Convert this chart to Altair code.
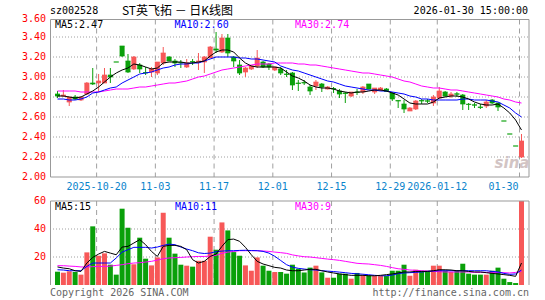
import altair as alt
import pandas as pd

# ---------------- data ----------------
tick_k = [7, 17, 27, 37, 47, 57, 65, 79]
tick_labels = ["2025-10-20", "11-03", "11-17", "12-01", "12-15", "12-29", "2026-01-12", "01-30"]
price_ticks = [3.6, 3.4, 3.2, 3.0, 2.8, 2.6, 2.4, 2.2, 2.0]
vol_ticks = [60, 40, 20]

opens = [2.83, 2.81, 2.75, 2.80, 2.77, 2.83, 2.94, 2.94, 2.94, 3.02,
         3.15, 3.31, 3.16, 3.08, 3.12, 3.045, 3.05, 3.04, 3.14, 3.20,
         3.16, 3.145, 3.10, 3.155, 3.15, 3.15, 3.19, 3.28, 3.25, 3.39,
         3.20, 3.12, 3.05, 3.08, 3.11, 3.15, 3.13, 3.07, 3.08, 3.03,
         3.04, 2.94, 2.945, 2.90, 2.91, 2.93, 2.88, 2.885, 2.86, 2.84,
         2.81, 2.85, 2.85, 2.93, 2.85, 2.87, 2.88, 2.84, 2.765, 2.73,
         2.66, 2.68, 2.765, 2.762, 2.74, 2.79, 2.85, 2.81, 2.832, 2.82,
         2.728, 2.722, 2.70, 2.71, 2.77, 2.74, 2.56, 2.43, 2.31, 2.20]
closes = [2.81, 2.82, 2.80, 2.78, 2.80, 2.94, 2.93, 2.96, 3.02, 3.00,
          3.15, 3.21, 3.05, 3.20, 3.08, 3.04, 3.08, 3.15, 3.24, 3.16,
          3.14, 3.14, 3.14, 3.15, 3.16, 3.20, 3.30, 3.27, 3.39, 3.24,
          3.16, 3.04, 3.09, 3.11, 3.19, 3.10, 3.10, 3.10, 3.04, 3.025,
          2.92, 2.935, 2.94, 2.86, 2.95, 2.90, 2.90, 2.88, 2.83, 2.835,
          2.85, 2.845, 2.90, 2.88, 2.89, 2.89, 2.855, 2.78, 2.76, 2.68,
          2.69, 2.76, 2.76, 2.758, 2.80, 2.86, 2.81, 2.83, 2.828, 2.73,
          2.725, 2.718, 2.695, 2.75, 2.74, 2.70, 2.56, 2.43, 2.31, 2.36]
highs = [2.86, 2.87, 2.80, 2.82, 2.80, 2.95, 3.09, 3.03, 3.09, 3.09,
         3.15, 3.31, 3.23, 3.21, 3.14, 3.10, 3.10, 3.15, 3.30, 3.21,
         3.18, 3.17, 3.18, 3.18, 3.24, 3.21, 3.31, 3.45, 3.43, 3.43,
         3.21, 3.17, 3.10, 3.12, 3.27, 3.16, 3.14, 3.10, 3.10, 3.07,
         3.05, 2.97, 2.97, 2.92, 2.97, 2.94, 2.91, 2.90, 2.88, 2.85,
         2.85, 2.88, 2.91, 2.93, 2.89, 2.90, 2.89, 2.85, 2.765, 2.77,
         2.70, 2.77, 2.78, 2.78, 2.82, 2.90, 2.86, 2.85, 2.85, 2.83,
         2.74, 2.74, 2.73, 2.77, 2.78, 2.74, 2.56, 2.43, 2.31, 2.43]
lows = [2.79, 2.80, 2.71, 2.77, 2.76, 2.82, 2.92, 2.85, 2.94, 2.94,
        3.15, 3.20, 3.04, 3.07, 3.04, 3.02, 3.00, 3.02, 3.12, 3.16,
        3.10, 3.09, 3.09, 3.12, 3.07, 3.04, 3.19, 3.24, 3.24, 3.20,
        3.10, 3.02, 3.00, 3.07, 3.09, 3.09, 3.07, 3.06, 3.02, 3.00,
        2.87, 2.86, 2.92, 2.82, 2.87, 2.85, 2.875, 2.84, 2.79, 2.74,
        2.80, 2.82, 2.83, 2.875, 2.83, 2.86, 2.85, 2.76, 2.69, 2.64,
        2.66, 2.67, 2.73, 2.74, 2.71, 2.78, 2.80, 2.79, 2.80, 2.67,
        2.67, 2.69, 2.68, 2.69, 2.73, 2.66, 2.56, 2.43, 2.31, 2.19]
volumes = [9.5, 8.8, 9.8, 9.3, 7.4, 23.3, 41.9, 20.9, 22.6, 14.5,
           7.4, 54.5, 40.9, 14.8, 33.8, 18.8, 14.0, 19.7, 51.6, 33.8,
           22.4, 14.5, 13.8, 13.1, 17.3, 17.3, 34.5, 25.2, 44.7, 39.0,
           23.5, 20.9, 14.0, 10.2, 19.7, 13.8, 10.2, 9.3, 9.3, 8.1,
           14.5, 11.6, 9.0, 12.4, 13.8, 9.0, 5.2, 5.2, 8.1, 8.1,
           4.5, 8.6, 6.9, 6.9, 6.4, 6.4, 6.4, 10.2, 10.2, 14.5,
           6.6, 10.9, 10.2, 10.2, 13.8, 13.8, 10.2, 9.3, 10.2, 15.2,
           8.1, 7.4, 7.4, 7.4, 10.2, 12.4, 4.5, 2.1, 1.4, 60.0]
ma5 = [2.81, 2.81, 2.80, 2.79, 2.80, 2.83, 2.86, 2.90, 2.95, 3.00,
       3.04, 3.07, 3.09, 3.13, 3.12, 3.10, 3.08, 3.09, 3.14, 3.15,
       3.15, 3.15, 3.14, 3.14, 3.15, 3.16, 3.21, 3.25, 3.27, 3.27,
       3.25, 3.19, 3.14, 3.11, 3.10, 3.10, 3.10, 3.10, 3.09, 3.05,
       3.01, 2.99, 2.96, 2.92, 2.90, 2.89, 2.89, 2.88, 2.86, 2.85,
       2.84, 2.85, 2.85, 2.86, 2.87, 2.87, 2.86, 2.84, 2.82, 2.78,
       2.74, 2.73, 2.73, 2.73, 2.75, 2.79, 2.80, 2.81, 2.81, 2.80,
       2.78, 2.75, 2.73, 2.72, 2.72, 2.73, 2.69, 2.64, 2.57, 2.47]
ma10 = [2.78, 2.78, 2.77, 2.77, 2.78, 2.80, 2.84, 2.85, 2.87, 2.89,
        2.90, 2.94, 2.97, 3.00, 3.03, 3.04, 3.05, 3.07, 3.09, 3.10,
        3.12, 3.13, 3.13, 3.14, 3.14, 3.16, 3.18, 3.20, 3.20, 3.20,
        3.20, 3.19, 3.19, 3.18, 3.18, 3.17, 3.16, 3.15, 3.11, 3.09,
        3.07, 3.06, 3.04, 3.02, 3.00, 2.98, 2.96, 2.95, 2.93, 2.91,
        2.90, 2.89, 2.88, 2.87, 2.87, 2.86, 2.86, 2.85, 2.84, 2.83,
        2.81, 2.80, 2.78, 2.78, 2.77, 2.77, 2.77, 2.77, 2.77, 2.78,
        2.78, 2.77, 2.77, 2.77, 2.76, 2.75, 2.72, 2.69, 2.64, 2.60]
ma30 = [2.86, 2.86, 2.86, 2.86, 2.85, 2.85, 2.85, 2.85, 2.86, 2.87,
        2.88, 2.88, 2.88, 2.89, 2.90, 2.90, 2.91, 2.92, 2.93, 2.94,
        2.94, 2.95, 2.96, 2.98, 3.00, 3.01, 3.03, 3.05, 3.07, 3.08,
        3.09, 3.10, 3.11, 3.12, 3.13, 3.13, 3.13, 3.14, 3.14, 3.14,
        3.14, 3.13, 3.13, 3.12, 3.12, 3.11, 3.10, 3.09, 3.08, 3.07,
        3.06, 3.05, 3.04, 3.04, 3.03, 3.02, 3.01, 3.00, 2.98, 2.96,
        2.95, 2.93, 2.91, 2.90, 2.89, 2.89, 2.88, 2.87, 2.87, 2.86,
        2.85, 2.84, 2.83, 2.82, 2.81, 2.80, 2.78, 2.77, 2.75, 2.74]
vma5 = [12.9, 12.1, 11.6, 10.2, 9.7, 15.7, 19.7, 22.1, 24.0, 22.8,
        21.6, 27.1, 27.6, 30.0, 32.4, 28.8, 24.0, 20.4, 27.6, 28.3,
        28.3, 27.6, 25.2, 18.1, 15.7, 16.9, 20.4, 22.1, 27.6, 32.4,
        32.8, 31.2, 26.9, 21.6, 16.9, 15.0, 13.8, 12.6, 12.1, 10.7,
        10.2, 10.2, 10.7, 11.2, 11.2, 10.2, 9.3, 8.6, 7.9, 7.4,
        6.9, 6.9, 6.9, 6.6, 6.6, 6.9, 7.4, 7.9, 8.6, 9.3,
        9.3, 9.7, 9.7, 9.7, 10.2, 10.9, 10.9, 10.7, 10.2, 10.2,
        9.7, 9.3, 9.3, 8.8, 8.3, 7.9, 7.4, 6.9, 6.2, 15.7]
vma10 = [10.9, 10.7, 10.2, 10.2, 10.2, 13.3, 15.7, 15.7, 15.7, 15.7,
         19.3, 23.5, 25.2, 26.9, 26.9, 26.9, 26.4, 27.1, 28.3, 29.2,
         28.8, 27.1, 25.7, 24.5, 23.0, 22.5, 22.8, 23.8, 24.2, 24.5,
         24.5, 24.7, 24.8, 24.6, 24.5, 24.0, 22.8, 20.5, 17.5, 14.5,
         12.8, 11.9, 11.4, 10.9, 10.7, 10.2, 9.9, 9.6, 9.2, 8.8,
         8.3, 8.0, 7.7, 7.3, 6.9, 6.6, 6.6, 7.1, 8.1, 8.6,
         8.8, 9.0, 9.3, 9.7, 10.0, 10.2, 10.2, 10.2, 10.2, 10.2,
         10.2, 10.2, 10.2, 10.2, 9.7, 9.3, 8.3, 7.6, 7.9, 10.7]
vma30 = [13.8, 13.8, 13.5, 13.3, 12.9, 12.9, 13.1, 13.3, 13.3, 13.5,
         14.0, 14.5, 15.2, 15.7, 15.9, 16.4, 16.9, 17.8, 18.8, 19.3,
         19.5, 19.7, 20.0, 20.2, 20.4, 20.4, 20.7, 21.2, 22.6, 23.5,
         24.0, 24.5, 24.5, 24.5, 24.5, 24.3, 24.0, 23.5, 23.1, 22.6,
         21.5, 20.8, 20.2, 20.0, 19.5, 19.0, 18.5, 18.1, 17.6, 16.9,
         16.2, 15.5, 15.2, 15.0, 14.5, 14.0, 13.3, 12.4, 11.6, 11.2,
         10.7, 10.5, 10.2, 10.0, 9.7, 9.5, 9.3, 9.3, 9.3, 9.3,
         9.3, 9.0, 9.0, 9.0, 9.0, 9.0, 8.8, 8.6, 9.0, 9.8]

# ---------------- styling ----------------
RED = "#f75858"
GREEN = "#0aa00a"
BLUE = "#0000ff"
MAGENTA = "#ff00ff"
GRID = "#a0a0a0"
FRAME = "#999999"
XLAB = "#0a84cc"
MONO = "DejaVu Sans Mono"
FS = 10

W, H = 479, 268
TOP_Y0, TOP_Y1 = 2.5, 160      # price panel frame (plot coords)
VOL_Y0, VOL_Y1 = 184, 268      # volume panel

df = pd.DataFrame({
    "k": list(range(len(opens))), "open": opens, "close": closes,
    "high": highs, "low": lows, "vol": volumes,
    "ma5": ma5, "ma10": ma10, "ma30": ma30,
    "vma5": vma5, "vma10": vma10, "vma30": vma30,
})
df["dir"] = ["up" if c > o else "down" for o, c in zip(opens, closes)]

XS = alt.Scale(domain=[0, 79], range=[2.5, 476.5], nice=False, zero=False)
PS = alt.Scale(domain=[2.0, 3.6], range=[160, 0], nice=False, zero=False)
VS = alt.Scale(domain=[0, 60], range=[268, 184], nice=False, zero=False)
xk = alt.X("k:Q", scale=XS, axis=None)
col = alt.Color("dir:N", scale=alt.Scale(domain=["up", "down"], range=[RED, GREEN]), legend=None)

base = alt.Chart(df)
ticks_df = pd.DataFrame({"k": tick_k, "label": tick_labels})
pt_df = pd.DataFrame({"p": price_ticks})
vt_df = pd.DataFrame({"v": vol_ticks})

layers = []

# grids
layers.append(alt.Chart(pt_df).transform_filter("datum.p > 2.05 && datum.p < 3.55").mark_rule(
    color=GRID, strokeDash=[1, 2], strokeWidth=1).encode(
    y=alt.Y("p:Q", scale=PS, axis=None), x=alt.value(0), x2=alt.value(W)))
layers.append(alt.Chart(vt_df).transform_filter("datum.v < 59").mark_rule(
    color=GRID, strokeDash=[1, 2], strokeWidth=1).encode(
    y=alt.Y("v:Q", scale=VS, axis=None), x=alt.value(0), x2=alt.value(W)))
for y0, y1 in [(TOP_Y0, TOP_Y1), (VOL_Y0, VOL_Y1)]:
    layers.append(alt.Chart(ticks_df).mark_rule(
        color=GRID, strokeDash=[5, 4], strokeWidth=1, xOffset=-2).encode(
        x=alt.X("k:Q", scale=XS, axis=None), y=alt.value(y0), y2=alt.value(y1)))

# candles
layers.append(base.mark_rule(strokeWidth=1).encode(
    x=xk, y=alt.Y("low:Q", scale=PS, axis=None), y2="high:Q", color=col))
layers.append(base.mark_bar(size=5).encode(
    x=xk, y=alt.Y("open:Q", scale=PS, axis=None), y2="close:Q", color=col))
for f in ["open", "close"]:
    layers.append(base.mark_tick(orient="horizontal", size=5, thickness=1).encode(
        x=xk, y=alt.Y(f"{f}:Q", scale=PS, axis=None), color=col))

# price MAs
for f, c in [("ma30", MAGENTA), ("ma10", BLUE), ("ma5", "black")]:
    layers.append(base.mark_line(color=c, strokeWidth=1).encode(
        x=xk, y=alt.Y(f"{f}:Q", scale=PS, axis=None)))

# volume
layers.append(base.mark_bar(size=5).encode(
    x=xk, y=alt.Y("vol:Q", scale=VS, axis=None), color=col))
for f, c in [("vma30", MAGENTA), ("vma10", BLUE), ("vma5", "black")]:
    layers.append(base.mark_line(color=c, strokeWidth=1).encode(
        x=xk, y=alt.Y(f"{f}:Q", scale=VS, axis=None)))

# frames
one = pd.DataFrame({"a": [0]})
layers.append(alt.Chart(one).mark_rect(fillOpacity=0, stroke=FRAME, strokeWidth=1).encode(
    x=alt.value(0.5), x2=alt.value(W), y=alt.value(TOP_Y0), y2=alt.value(TOP_Y1)))
for xa, xb, ya, yb in [(0.5, W, VOL_Y0, VOL_Y0), (0.5, 0.5, VOL_Y0, VOL_Y1), (W, W, VOL_Y0, VOL_Y1)]:
    layers.append(alt.Chart(one).mark_rule(color=FRAME, strokeWidth=1).encode(
        x=alt.value(xa), x2=alt.value(xb), y=alt.value(ya), y2=alt.value(yb)))

# axis labels
layers.append(alt.Chart(pt_df).transform_filter("datum.p < 3.55").mark_text(
    align="right", baseline="middle", color="#ff0000", font=MONO, fontSize=FS).encode(
    y=alt.Y("p:Q", scale=PS, axis=None), x=alt.value(-4), text=alt.Text("p:Q", format=".2f")))
layers.append(alt.Chart(pt_df).transform_filter("datum.p >= 3.55").mark_text(
    align="right", baseline="middle", color="#ff0000", font=MONO, fontSize=FS, dy=2).encode(
    y=alt.Y("p:Q", scale=PS, axis=None), x=alt.value(-4), text=alt.Text("p:Q", format=".2f")))
layers.append(alt.Chart(vt_df).mark_text(align="right", baseline="middle", color="#ff0000",
                                         font=MONO, fontSize=FS).encode(
    y=alt.Y("v:Q", scale=VS, axis=None), x=alt.value(-4), text=alt.Text("v:Q", format="d")))
layers.append(alt.Chart(ticks_df).transform_filter("datum.k < 79").mark_text(
    align="center", baseline="middle", color=XLAB, font=MONO, fontSize=FS, dx=-2).encode(
    x=alt.X("k:Q", scale=XS, axis=None), y=alt.value(170), text="label:N"))
layers.append(alt.Chart(ticks_df).transform_filter("datum.k >= 79").mark_text(
    align="right", baseline="middle", color=XLAB, font=MONO, fontSize=FS, dx=-3).encode(
    x=alt.X("k:Q", scale=XS, axis=None), y=alt.value(170), text="label:N"))


def label(txt, x, y, color="black", align="left", font=MONO, size=FS, **kw):
    return alt.Chart(one).mark_text(text=txt, align=align, baseline="middle", color=color,
                                    font=font, fontSize=size, **kw).encode(
        x=alt.value(x), y=alt.value(y))


layers += [
    label("sz002528", 0, -6),
    label("ST英飞拓 － 日K线图", 127.5, -6, align="center", font="Noto Sans CJK SC", size=12),
    label("2026-01-30 15:00:00", 478, -6, align="right"),
    label("MA5:2.47", 5, 8),
    label("MA10:2.60", 124.5, 8, color=BLUE),
    label("MA30:2.74", 245, 8, color=MAGENTA),
    label("MA5:15", 5, 189.5),
    label("MA10:11", 125, 189.5, color=BLUE),
    label("MA30:9", 245, 189.5, color=MAGENTA),
    label("Copyright 2026 SINA.COM", 0, 276, color="#666666"),
    label("http://finance.sina.com.cn", 479, 276, color="#666666", align="right"),
    label("sina", 462, 146, color="#d2c4c4", align="center", font="DejaVu Sans", size=15,
          fontStyle="italic", fontWeight="bold"),
]

chart = alt.layer(*layers).resolve_scale(y="independent").properties(
    width=W, height=H,
    padding={"left": 50, "top": 17, "right": 16, "bottom": 15},
    autosize=alt.AutoSizeParams(type="none"),
    background="white",
).configure_view(stroke=None)

chart.save("out.html", embed_options={"renderer": "svg", "actions": False})
